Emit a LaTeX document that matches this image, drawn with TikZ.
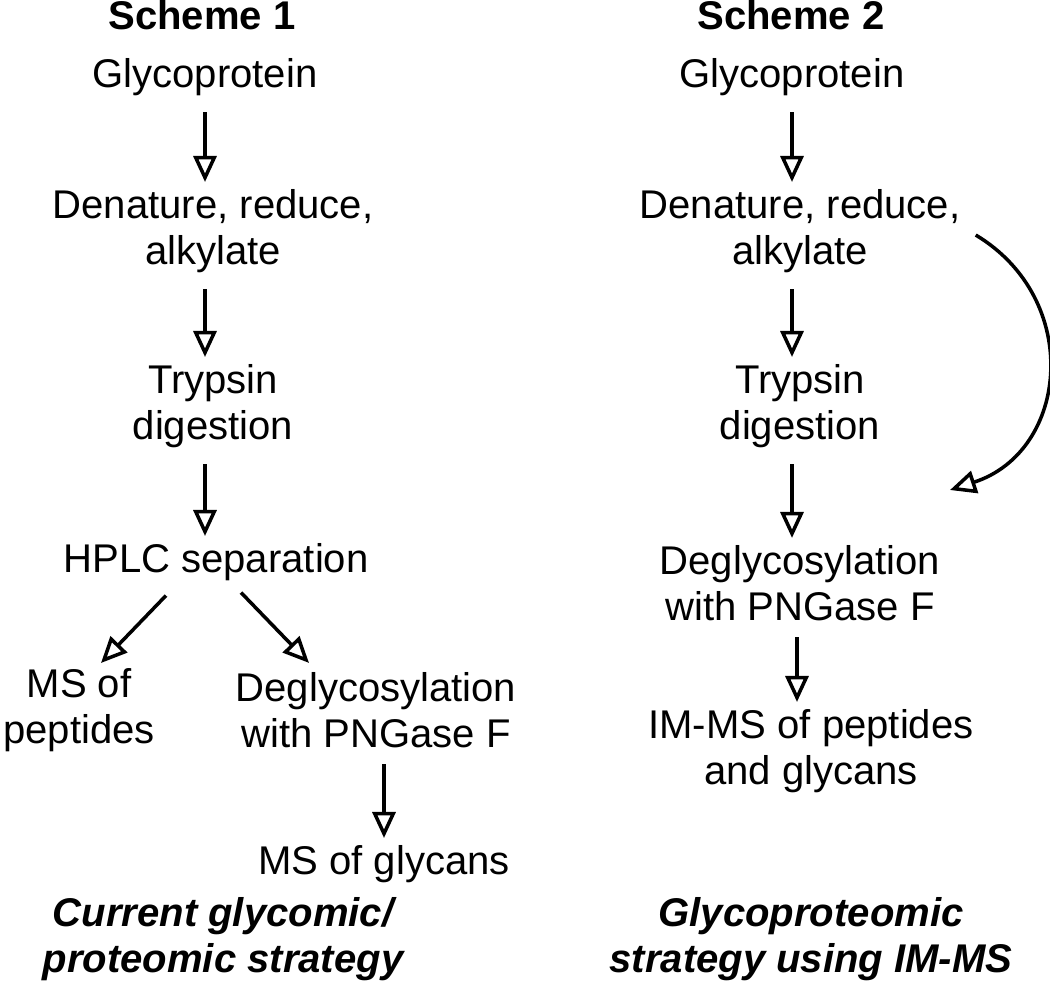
\documentclass[tikz,border=0pt]{standalone}
\usepackage{fontspec}
\setmainfont{Liberation Sans}
\usetikzlibrary{arrows.meta,positioning}

\tikzstyle{stage} = [inner sep=0pt, align=center, font=\fontsize{22.8}{26.2}\selectfont]
\tikzstyle{heading} = [stage, font=\fontsize{22.8}{26.2}\selectfont\bfseries]
\tikzstyle{strategy} = [stage, font=\fontsize{22.8}{26.2}\selectfont\bfseries\itshape]
\tikzstyle{line} = [draw, -{Triangle[open,length=0.52cm,width=0.46cm]},
    line width=2pt, shorten <=0.32cm, shorten >=0.14cm]

\begin{document}
\begin{tikzpicture}
    \useasboundingbox (0,0) rectangle (21,-19.62);

    % Scheme 1
    \node[heading](SchemeOne) at (4.04,-0.31){Scheme 1};
    \node[stage, below of=SchemeOne, node distance=1.23cm, xshift=0.06cm]
            (GlycoA){Glycoprotein};
    \node[stage, below of=GlycoA, node distance=3.08cm, xshift=0.16cm]
            (DenatureA){Denature, reduce,\\alkylate};
    \node[stage, below of=DenatureA, node distance=3.50cm]
            (TrypsinA){Trypsin\\digestion};
    \node[stage, below of=TrypsinA, node distance=3.12cm, xshift=0.06cm]
            (HPLC){HPLC separation};
    \node[stage](PeptidesMS) at (1.58,-14.20){MS of\\peptides};
    \node[stage](DeglycoA) at (7.52,-14.20){Deglycosylation\\with PNGase F};
    \node[stage, below of=DeglycoA, node distance=3.08cm, xshift=0.16cm]
            (GlycansMS){MS of glycans};
    \node[strategy](StrategyA) at (4.46,-18.78){Current glycomic/\\proteomic strategy};

    % Scheme 2
    \node[heading](SchemeTwo) at (15.82,-0.31){Scheme 2};
    \node[stage, below of=SchemeTwo, node distance=1.23cm, xshift=0.02cm]
            (GlycoB){Glycoprotein};
    \node[stage, below of=GlycoB, node distance=3.08cm, xshift=0.16cm]
            (DenatureB){Denature, reduce,\\alkylate};
    \node[stage, below of=DenatureB, node distance=3.50cm]
            (TrypsinB){Trypsin\\digestion};
    \node[stage, below of=TrypsinB, node distance=3.54cm]
            (DeglycoB){Deglycosylation\\with PNGase F};
    \node[stage, below of=DeglycoB, node distance=3.36cm, xshift=0.22cm]
            (IMMS){IM-MS of peptides\\and glycans};
    \node[strategy](StrategyB) at (16.22,-18.78){Glycoproteomic\\strategy using IM-MS};
    \coordinate (SkipEnd) at (19.0,-9.8);

    \path[line](GlycoA.south) -- (GlycoA.south |- DenatureA.north);
    \path[line](DenatureA.south -| GlycoA.south) -- (TrypsinA.north -| GlycoA.south);
    \path[line](TrypsinA.south -| GlycoA.south) -- (HPLC.north -| GlycoA.south);
    \path[line, shorten <=0pt, shorten >=0pt]([shift={(-1.0,-0.29)}]HPLC.south)
            -- ([shift={(0.44,0.1)}]PeptidesMS.north);
    \path[line, shorten <=0pt, shorten >=0pt]([shift={(0.5,-0.23)}]HPLC.south)
            -- ([shift={(-1.34,0.18)}]DeglycoA.north);
    \path[line](DeglycoA.south -| GlycansMS.north) -- (GlycansMS.north);

    \path[line](GlycoB.south) -- (GlycoB.south |- DenatureB.north);
    \path[line](DenatureB.south -| GlycoB.south) -- (TrypsinB.north -| GlycoB.south);
    \path[line](TrypsinB.south -| GlycoB.south) -- (DeglycoB.north -| GlycoB.south);
    \path[line]([xshift=0.1cm]DeglycoB.south -| GlycoB.south)
            -- ([xshift=0.1cm]IMMS.north -| GlycoB.south);
    \path[line, shorten <=0pt, shorten >=0pt]([shift={(0.3,-0.08)}]DenatureB.east)
            to[out=-31, in=18, looseness=1.25] (SkipEnd);
\end{tikzpicture}
\end{document}
